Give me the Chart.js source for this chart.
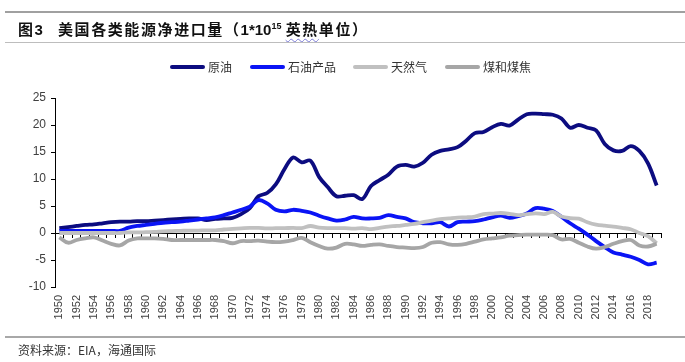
<!DOCTYPE html>
<html><head><meta charset="utf-8">
<script src="https://cdn.jsdelivr.net/npm/chart.js@4.4.1/dist/chart.umd.min.js"></script>
<style>
html,body{margin:0;padding:0;background:#fff;}
#wrap{position:relative;width:685px;height:362px;overflow:hidden;font-family:"Noto Sans CJK SC","Noto Sans",sans-serif;}
canvas{position:absolute;left:0;top:0;}
.hr{position:absolute;left:5px;width:680px;}
#title{position:absolute;left:18px;top:18px;font-size:15px;font-weight:bold;letter-spacing:1.6px;color:#111;white-space:nowrap;line-height:22px;}
#title .lat{letter-spacing:0;font-family:"Liberation Sans",Arial,sans-serif;}
#title sup{font-size:9px;letter-spacing:0;vertical-align:6px;line-height:0;}
.sq{text-decoration:underline wavy #7b7bd6;text-decoration-thickness:1px;text-underline-offset:3px;}
#legend{position:absolute;top:59px;left:170px;height:16px;white-space:nowrap;font-size:12px;color:#333;}
.li{position:absolute;top:0;height:16px;}
.li i{position:absolute;top:6px;left:0;width:35px;height:4px;border-radius:2px;}
.li span{position:absolute;left:38px;top:-1px;line-height:18px;}
#src{position:absolute;left:18px;top:341px;font-size:12px;color:#333;white-space:nowrap;line-height:18px;}
</style></head>
<body>
<div id="wrap">
<canvas id="c" width="685" height="362"></canvas>
<div class="hr" style="top:11px;height:2px;background:#a0a0a0;"></div>
<div id="title">图<span class="lat">3</span>&nbsp;&nbsp;&nbsp;美国各类能源净进口量（<span class="lat">1*10<sup>15</sup> </span><span class="sq">英热</span>单位）</div>
<div class="hr" style="top:42px;height:1px;background:#bdbdbd;"></div>
<div id="legend"></div>
<div class="hr" style="top:336px;height:2px;background:#a8a8a8;"></div>
<div id="src">资料来源：EIA，海通国际</div>
</div>
<script>
const years = ['1950','1951','1952','1953','1954','1955','1956','1957','1958','1959',
'1960','1961','1962','1963','1964','1965','1966','1967','1968','1969',
'1970','1971','1972','1973','1974','1975','1976','1977','1978','1979',
'1980','1981','1982','1983','1984','1985','1986','1987','1988','1989',
'1990','1991','1992','1993','1994','1995','1996','1997','1998','1999',
'2000','2001','2002','2003','2004','2005','2006','2007','2008','2009',
'2010','2011','2012','2013','2014','2015','2016','2017','2018','2019'];

const seriesNames = ['原油','石油产品','天然气','煤和煤焦'];

const crudeOil = [0.9,1.1,1.3,1.5,1.6,1.8,2.0,2.1,2.1,2.2,
2.2,2.3,2.4,2.5,2.6,2.7,2.7,2.4,2.6,2.7,
2.8,3.5,4.6,6.8,7.4,9.0,11.8,14.0,13.1,13.4,
10.4,8.5,6.8,6.9,7.0,6.3,8.7,9.8,10.8,12.3,
12.6,12.3,13.0,14.5,15.2,15.5,15.9,17.1,18.5,18.7,
19.6,20.2,19.9,21.0,22.0,22.1,22.0,21.9,21.2,19.5,
20.0,19.5,19.0,16.5,15.3,15.2,16.1,15.2,12.9,8.8];

const petroleumProducts = [0.4,0.4,0.4,0.4,0.4,0.4,0.4,0.4,1.0,1.3,
1.5,1.7,1.9,2.0,2.1,2.3,2.5,2.7,2.9,3.3,
3.8,4.3,4.9,6.1,5.5,4.3,4.0,4.3,4.1,3.8,
3.2,2.7,2.3,2.5,3.0,2.7,2.7,2.8,3.3,3.0,
2.7,2.0,1.8,1.8,2.0,1.2,2.0,2.1,2.2,2.5,
2.9,3.2,2.8,3.1,3.6,4.6,4.5,4.1,3.0,1.8,
0.8,-0.3,-1.5,-2.6,-3.6,-4.0,-4.4,-5.0,-5.8,-5.5];

const naturalGas = [0.0,0.0,0.0,0.0,0.0,0.0,0.0,0.0,0.1,0.1,
0.15,0.2,0.3,0.35,0.4,0.45,0.45,0.5,0.5,0.65,
0.75,0.85,0.95,0.95,0.85,0.9,0.9,0.95,0.9,1.3,
1.0,0.9,0.9,0.9,0.8,0.9,0.7,0.95,1.2,1.3,
1.5,1.7,2.0,2.3,2.55,2.7,2.85,2.9,3.05,3.5,
3.6,3.7,3.55,3.3,3.5,3.65,3.5,3.9,3.05,2.75,
2.65,2.0,1.55,1.35,1.2,0.95,0.7,0.0,-0.6,-1.9];

const coalCoke = [-0.8,-1.8,-1.3,-1.0,-0.8,-1.4,-2.0,-2.3,-1.4,-1.0,
-1.0,-1.0,-1.1,-1.3,-1.3,-1.3,-1.3,-1.3,-1.3,-1.5,
-1.9,-1.5,-1.5,-1.4,-1.6,-1.7,-1.6,-1.3,-0.9,-1.7,
-2.4,-2.9,-2.7,-2.0,-2.1,-2.4,-2.2,-2.1,-2.4,-2.6,
-2.7,-2.8,-2.6,-1.8,-1.7,-2.1,-2.2,-2.0,-1.6,-1.2,
-1.0,-0.8,-0.5,-0.4,-0.3,-0.3,-0.3,-0.4,-1.2,-1.1,
-1.8,-2.5,-2.9,-2.6,-2.0,-1.5,-1.3,-2.3,-2.5,-2.0];

const yMin = -10, yMax = 25, yStep = 5;
const colors = ['#0c0c80','#0a14f5','#c0c0c0','#a6a6a6'];
const seriesData = [crudeOil, petroleumProducts, naturalGas, coalCoke];

// HTML legend
const legendPos = [0, 80, 183, 275];
const lg = document.getElementById('legend');
seriesNames.forEach((n,i)=>{
  const d = document.createElement('div');
  d.className='li'; d.style.left = legendPos[i]+'px';
  d.innerHTML = '<i style="background:'+colors[i]+'"></i><span>'+n+'</span>';
  lg.appendChild(d);
});

new Chart(document.getElementById('c'), {
  type: 'line',
  data: {
    labels: years,
    datasets: seriesNames.map((n,i)=>({
      label: n,
      data: seriesData[i],
      borderColor: colors[i],
      backgroundColor: colors[i],
      borderWidth: 3.8,
      pointRadius: 0,
      tension: 0.35,
      fill: false,
      order: 4 - i,
      xAxisID: 'x',
      yAxisID: 'y'
    }))
  },
  options: {
    responsive: false,
    devicePixelRatio: 1,
    animation: false,
    layout: { padding: { left: 0, top: 98, right: 24, bottom: 0 } },
    plugins: { legend: { display: false }, tooltip: { enabled: false } },
    scales: {
      x: {
        type: 'category',
        position: 'bottom',
        offset: true,
        grid: { display: false, drawTicks: false },
        border: { display: false },
        ticks: {
          autoSkip: false, maxRotation: 90, minRotation: 90, padding: 8,
          color: '#404040',
          font: { family: '"Liberation Sans", Arial, sans-serif', size: 11 },
          callback: function(v, i){ return i % 2 === 0 ? this.getLabelForValue(v) : ''; }
        },
        afterFit: function(s){ s.height = 75; }
      },
      x0: {
        type: 'category',
        position: { y: 0 },
        offset: true,
        grid: { offset: true, drawOnChartArea: false, drawTicks: true, tickLength: 4, color: '#000', tickColor: '#000', tickWidth: 1 },
        border: { display: true, color: '#000', width: 1 },
        ticks: { display: false }
      },
      y: {
        min: yMin, max: yMax,
        position: 'left',
        grid: { drawOnChartArea: false, drawTicks: true, tickLength: 4, color: '#000', tickColor: '#000' },
        border: { display: true, color: '#000', width: 1 },
        ticks: {
          stepSize: yStep, padding: 5, color: '#404040',
          font: { family: '"Liberation Sans", Arial, sans-serif', size: 12 }
        },
        afterFit: function(s){ s.width = 55; }
      }
    }
  }
});
</script>
</body></html>
